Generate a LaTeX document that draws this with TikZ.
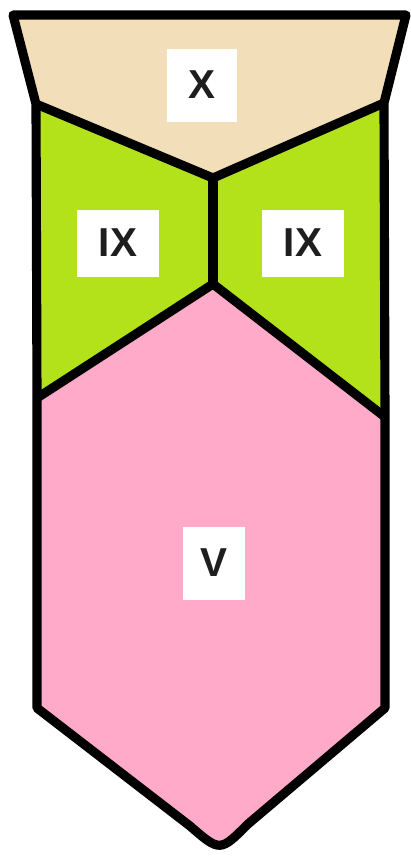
\documentclass[tikz,border=0pt]{standalone}
\usepackage{fontspec}
\setmainfont{Liberation Sans}
\usepackage{tikz}
\usetikzlibrary{positioning}
\definecolor{plateX}{HTML}{F2DFB9}
\definecolor{plateIX}{HTML}{B3E21A}
\definecolor{plateV}{HTML}{FEAAC8}
\definecolor{labelink}{HTML}{1E1E1E}

\begin{document}
\begin{tikzpicture}[x=0.02cm,y=-0.02cm,
  plate/.style={line width=5.2pt, line join=round, draw=black},
  tag/.style={fill=white, text=labelink, inner sep=0pt, font=\fontsize{23}{26}\selectfont\bfseries}]
\useasboundingbox (0,0) rectangle (410,860);
% corners of the outline
\coordinate (tl) at (13,15);
\coordinate (tr) at (406,15);
\coordinate (xl) at (36,104);
\coordinate (xr) at (384,103);
\coordinate (mid) at (213,178);
\coordinate (low) at (213,284);
\coordinate (gl) at (37,398);
\coordinate (gr) at (385,417);
\coordinate (pl) at (37,708);
\coordinate (pr) at (385,708);
% fills
\fill[plateX] (tl) -- (tr) -- (xr) -- (mid) -- (xl) -- cycle;
\fill[plateIX] (xl) -- (mid) -- (low) -- (gl) -- cycle;
\fill[plateIX] (mid) -- (xr) -- (gr) -- (low) -- cycle;
\fill[plateV] (low) -- (gr) -- (pr) -- (248,824) .. controls (220,852) .. (190,826) -- (pl) -- (gl) -- cycle;
% outline and seams
\draw[plate] (tl) -- (tr) -- (xr) -- (gr) -- (pr) -- (248,824) .. controls (220,852) .. (190,826) -- (pl) -- (gl) -- (xl) -- cycle;
\draw[plate] (xl) -- (mid) -- (xr);
\draw[plate] (mid) -- (low);
\draw[plate] (gl) -- (low) -- (gr);
% labels
\node[tag, minimum width=1.42cm, minimum height=1.46cm] (x) at (202,85) {X};
\node[tag, minimum width=1.66cm, minimum height=1.34cm] (ixl) at (118,243) {IX};
\node[tag, minimum width=1.66cm, minimum height=1.34cm] (ixr) at (303,243) {IX};
\node[tag, minimum width=1.24cm, minimum height=1.46cm] (v) at (214,563) {V};
\end{tikzpicture}
\end{document}
